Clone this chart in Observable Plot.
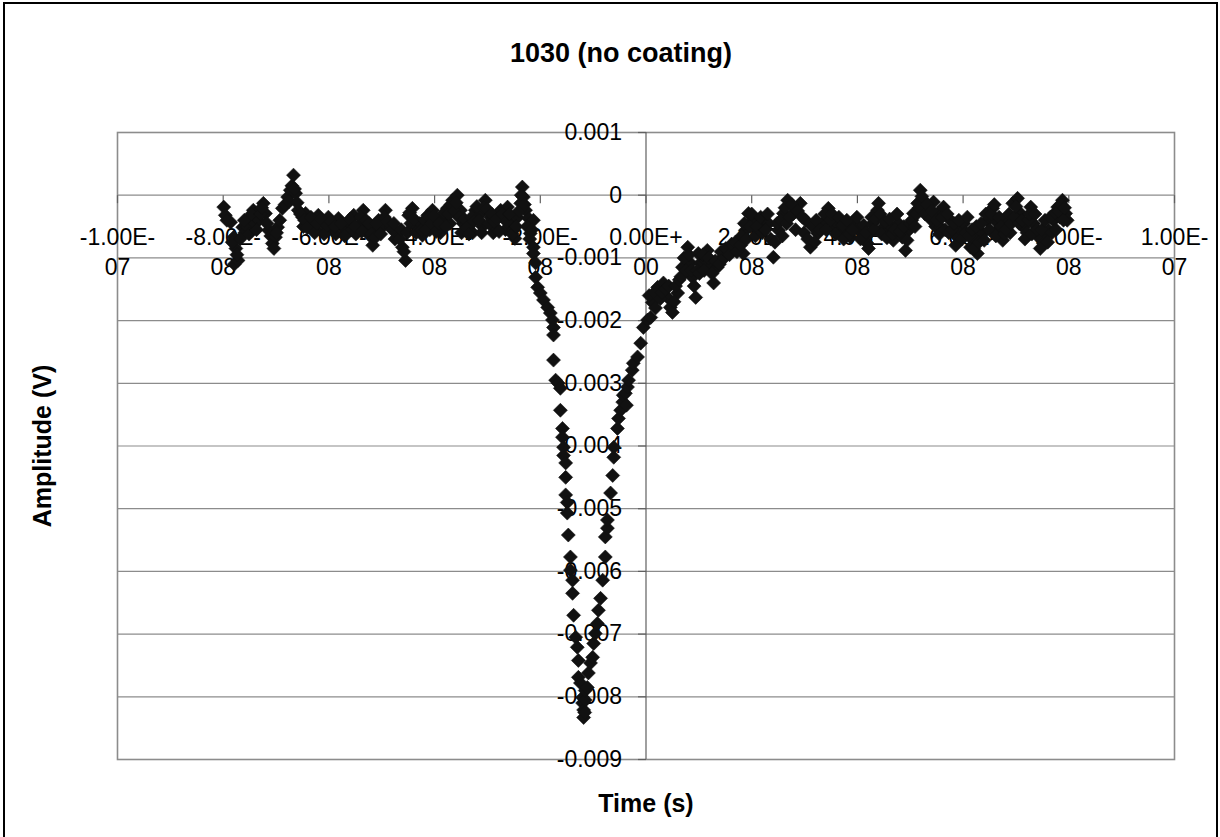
<!DOCTYPE html>
<html><head><meta charset="utf-8">
<script src="https://cdn.jsdelivr.net/npm/d3@7"></script>
<script src="https://cdn.jsdelivr.net/npm/@observablehq/plot@0.6"></script>
<style>
html,body{margin:0;padding:0;background:#fff;}
#wrap{position:relative;width:1220px;height:837px;overflow:hidden;}
#border{position:absolute;left:3px;top:2px;width:1215px;height:900px;border:2px solid #000;box-sizing:border-box;pointer-events:none;}
#chart{position:absolute;left:0;top:0;}
</style></head>
<body><div id="wrap"><div id="chart"></div><div id="border"></div></div>
<script>
// ---- chart text ----
const chartTitle = "1030 (no coating)";
const xTitle = "Time (s)";
const yTitle = "Amplitude (V)";

// ---- axis ticks (time in ns, amplitude in mV) ----
const xTickValues = [-100, -80, -60, -40, -20, 0, 20, 40, 60, 80, 100];
const xTickLabels = ["-1.00E-\n07", "-8.00E-\n08", "-6.00E-\n08", "-4.00E-\n08", "-2.00E-\n08",
  "0.00E+\n00", "2.00E-\n08", "4.00E-\n08", "6.00E-\n08", "8.00E-\n08", "1.00E-\n07"];
const yTickValues = [1, 0, -1, -2, -3, -4, -5, -6, -7, -8, -9];
const yTickLabels = ["0.001", "0", "-0.001", "-0.002", "-0.003", "-0.004", "-0.005", "-0.006", "-0.007", "-0.008", "-0.009"];

// ---- data: [time (ns), amplitude (mV)] ----
const preTrigger = [
  [-79.9,-0.19],[-79.6,-0.32],[-78.6,-0.43],[-78.0,-0.67],[-77.9,-1.10],[-77.6,-0.85],[-77.2,-1.04],
  [-76.3,-0.51],[-75.9,-0.60],[-75.4,-0.51],[-74.8,-0.35],[-74.3,-0.24],[-74.0,-0.45],[-73.3,-0.40],
  [-72.4,-0.13],[-72.0,-0.29],[-71.4,-0.56],[-71.0,-0.65],[-70.7,-0.77],[-70.1,-0.67],[-69.7,-0.51],
  [-68.8,-0.21],[-67.8,-0.03],[-67.3,0.08],[-66.7,0.32],[-66.3,0.03],[-65.8,-0.24],[-65.0,-0.35],
  [-64.8,-0.50],[-64.4,-0.29],[-63.9,-0.45],[-62.9,-0.40],[-62.4,-0.55],[-62.0,-0.32],[-61.0,-0.45],
  [-60.6,-0.58],[-60.1,-0.35],[-59.1,-0.51],[-58.7,-0.62],[-58.2,-0.37],[-57.2,-0.51],[-56.8,-0.55],
  [-56.3,-0.43],[-55.3,-0.32],[-54.9,-0.62],[-54.4,-0.48],[-53.5,-0.24],[-52.7,-0.51],[-52.2,-0.65],
  [-51.7,-0.80],[-50.8,-0.56],[-50.6,-0.40],[-49.8,-0.50],[-49.3,-0.24],[-48.3,-0.51],[-47.5,-0.70],
  [-47.0,-0.61],[-46.1,-0.83],[-45.5,-1.04],[-44.9,-0.32],[-44.5,-0.45],[-44.2,-0.21],[-43.2,-0.51],
  [-42.8,-0.45],[-42.3,-0.64],[-41.3,-0.32],[-40.9,-0.55],[-40.4,-0.24],[-39.4,-0.51],[-38.9,-0.60],
  [-38.5,-0.37],[-37.6,-0.21],[-37.1,-0.45],[-36.6,-0.08],[-35.7,0.00],[-35.1,-0.24],[-34.6,-0.45],
  [-34.2,-0.56],[-33.2,-0.45],[-32.8,-0.60],[-32.3,-0.24],[-31.3,-0.29],[-30.9,-0.50],[-30.4,-0.08],
  [-29.4,-0.35],[-28.9,-0.60],[-28.5,-0.51],[-27.5,-0.24],[-26.9,-0.35],[-26.6,-0.55],[-26.2,-0.19],
  [-25.6,-0.45],[-25.1,-0.56],[-24.8,-0.69],[-24.3,-0.35],[-23.7,-0.13],[-23.4,0.13],[-23.2,-0.03],
  [-22.8,-0.24],[-22.2,-0.37],[-21.9,-0.61],[-21.3,-0.40]
];
const preTriggerDense = [
  [-79.3,-0.40],[-78.3,-0.75],[-77.4,-0.95],[-76.8,-0.70],[-76.0,-0.40],[-75.1,-0.62],[-74.6,-0.30],
  [-73.7,-0.55],[-73.0,-0.30],[-72.7,-0.20],[-71.7,-0.45],[-70.4,-0.85],[-69.9,-0.60],[-69.3,-0.40],
  [-68.3,-0.15],[-67.5,-0.10],[-67.0,0.15],[-66.5,0.10],[-66.0,-0.12],[-65.4,-0.30],[-64.6,-0.40],
  [-64.1,-0.52],[-63.4,-0.35],[-62.7,-0.60],[-62.2,-0.45],[-61.5,-0.38],[-60.9,-0.62],[-60.3,-0.48],
  [-59.6,-0.42],[-58.9,-0.50],[-57.7,-0.45],[-57.0,-0.65],[-56.0,-0.38],[-55.6,-0.55],[-55.0,-0.50],
  [-54.0,-0.35],[-53.8,-0.58],[-53.0,-0.40],[-52.4,-0.45],[-51.9,-0.62],[-51.3,-0.68],[-51.0,-0.45],
  [-50.2,-0.62],[-49.5,-0.35],[-48.9,-0.42],[-48.0,-0.55],[-47.7,-0.45],[-46.6,-0.70],[-46.3,-0.55],
  [-45.8,-0.90],[-45.2,-0.60],[-44.7,-0.28],[-43.9,-0.38],[-43.5,-0.60],[-42.5,-0.55],[-41.9,-0.40],
  [-41.6,-0.55],[-41.0,-0.35],[-40.6,-0.45],[-40.1,-0.33],[-39.7,-0.58],[-39.1,-0.45],[-38.2,-0.28],
  [-37.9,-0.50],[-37.3,-0.30],[-36.9,-0.15],[-36.3,-0.25],[-35.9,-0.12],[-35.4,-0.35],[-34.9,-0.60],
  [-34.4,-0.38],[-33.9,-0.52],[-33.5,-0.62],[-33.0,-0.35],[-32.6,-0.42],[-32.0,-0.18],[-31.6,-0.40],
  [-31.1,-0.60],[-30.7,-0.20],[-30.1,-0.22],[-29.7,-0.45],[-29.2,-0.30],[-28.7,-0.42],[-28.2,-0.38],
  [-27.8,-0.58],[-27.2,-0.30],[-26.4,-0.42],[-25.9,-0.30],[-25.3,-0.62],[-24.6,-0.50],[-24.0,-0.25],
  [-23.6,0.00],[-23.0,-0.15],[-22.5,-0.50],[-22.0,-0.70],[-21.6,-0.55]
];
const pulse = [
  [-21.3,-0.83],[-21.3,-0.93],[-20.9,-1.08],[-20.9,-1.31],[-20.5,-1.47],[-20.0,-1.56],[-19.4,-1.67],
  [-18.6,-1.79],[-18.1,-1.88],[-17.7,-1.99],[-17.5,-2.11],[-17.5,-2.23],[-17.5,-2.63],[-17.1,-2.95],
  [-16.6,-3.00],[-16.2,-3.08],[-16.2,-3.43],[-15.8,-3.72],[-15.8,-3.86],[-15.6,-4.02],[-15.6,-4.15],
  [-15.2,-4.27],[-15.2,-4.50],[-15.2,-4.78],[-14.9,-4.90],[-14.9,-5.07],[-14.7,-5.42],[-14.3,-5.77],
  [-14.3,-5.98],[-13.9,-6.14],[-13.9,-6.35],[-13.7,-6.70],[-13.3,-7.05],[-13.0,-7.21],[-12.8,-7.42],
  [-12.8,-7.69],[-12.4,-7.78],[-12.0,-8.01],[-12.0,-8.10],[-11.8,-8.21],[-11.8,-8.33],[-11.6,-8.25],
  [-11.5,-8.05],[-11.5,-7.90],[-11.1,-7.85],[-10.9,-7.62],[-10.5,-7.46],[-10.1,-7.37],[-9.9,-7.15],
  [-9.6,-6.99],[-9.2,-6.83],[-9.0,-6.62],[-8.6,-6.43],[-8.2,-6.14],[-7.7,-5.77],[-7.7,-5.45],
  [-7.3,-5.31],[-7.3,-5.18],[-6.7,-4.75],[-6.3,-4.47],[-6.1,-4.18],[-6.1,-4.02],[-5.4,-3.72],
  [-5.2,-3.56],[-4.8,-3.43],[-4.4,-3.30],[-4.3,-3.19],[-3.9,-3.16],[-3.7,-3.35],[-3.5,-3.06],
  [-3.3,-2.95],[-2.6,-2.79],[-2.4,-2.68],[-1.6,-2.58],[-1.0,-2.36],[-0.5,-2.11],[0.3,-1.99],[0.9,-1.95]
];
const recovery = [
  [1.2,-1.71],[2.2,-1.47],[3.3,-1.40],[4.1,-1.63],[4.6,-1.79],[5.0,-1.87],[6.0,-1.56],[6.9,-1.15],
  [7.9,-0.83],[8.4,-1.08],[8.8,-1.31],[9.4,-1.63],[9.9,-0.93],[10.3,-1.08],[11.3,-1.04],[11.6,-0.88],
  [12.2,-1.15],[12.8,-1.40],[13.5,-1.15],[14.5,-0.99],[15.4,-0.88],[16.6,-0.83],[17.5,-0.72],
  [18.4,-0.93],[18.8,-0.56],[19.4,-0.29],[20.3,-0.40],[21.3,-0.56],[22.2,-0.40],[23.2,-0.45],
  [24.1,-0.99],[25.1,-0.56],[26.0,-0.29],[26.8,-0.08],[27.9,-0.29],[29.2,-0.13],[30.2,-0.40],
  [31.1,-0.83],[32.5,-0.61],[33.4,-0.45],[34.5,-0.21],[35.5,-0.51],[36.2,-0.45],[36.8,-0.56],
  [37.7,-0.56],[38.2,-0.50],[38.7,-0.67],[39.6,-0.45],[40.3,-0.52],[40.9,-0.61],[41.9,-0.77],
  [42.4,-0.60],[42.9,-0.45],[43.8,-0.24],[44.0,-0.13],[44.9,-0.51],[45.9,-0.56],[46.3,-0.50],
  [46.8,-0.72],[47.8,-0.45],[48.5,-0.67],[49.1,-0.88],[49.7,-0.56],[50.6,-0.29],[51.4,-0.13],
  [51.9,0.08],[52.5,-0.08],[53.5,-0.24],[54.4,-0.11],[54.8,-0.50],[55.2,-0.29],[55.7,-0.51],
  [56.3,-0.19],[57.6,-0.40],[58.9,-0.67],[59.5,-0.55],[60.1,-0.45],[61.4,-0.83],[62.2,-0.70],
  [62.7,-0.93],[63.7,-0.61],[64.6,-0.40],[65.6,-0.21],[66.0,-0.40],[66.5,-0.56],[67.5,-0.72],
  [68.4,-0.40],[68.9,-0.60],[69.4,-0.13],[70.3,-0.05],[70.9,-0.29],[71.4,-0.51],[72.1,-0.60],
  [72.8,-0.19],[73.3,-0.45],[74.3,-0.67],[75.2,-0.77],[75.7,-0.62],[76.2,-0.56],[77.1,-0.40],
  [77.9,-0.19],[78.3,-0.35],[78.8,-0.08],[79.4,-0.29],[79.7,-0.40]
];
const recoveryDense = [
  [0.6,-1.60],[1.6,-1.55],[1.8,-1.80],[2.7,-1.65],[3.0,-1.55],[3.7,-1.50],[4.3,-1.45],[5.3,-1.70],
  [5.6,-1.45],[6.3,-1.35],[6.6,-1.30],[7.2,-1.00],[7.6,-1.20],[8.1,-0.95],[8.6,-1.20],[9.1,-1.45],
  [9.7,-1.20],[10.1,-1.25],[10.8,-0.95],[11.0,-1.20],[11.9,-1.00],[12.5,-1.25],[13.1,-1.05],
  [13.9,-1.10],[14.2,-0.90],[14.8,-1.00],[15.1,-0.85],[15.8,-0.95],[16.2,-0.78],[16.9,-0.75],
  [17.2,-0.90],[17.9,-0.80],[18.1,-0.65],[18.6,-0.45],[19.0,-0.70],[19.7,-0.50],[20.0,-0.30],
  [20.7,-0.65],[21.0,-0.50],[21.7,-0.35],[22.0,-0.60],[22.6,-0.55],[23.0,-0.30],[23.6,-0.70],
  [24.4,-0.75],[24.8,-0.45],[25.5,-0.40],[25.8,-0.65],[26.3,-0.20],[26.6,-0.45],[27.2,-0.35],
  [27.6,-0.15],[28.3,-0.55],[28.7,-0.25],[29.6,-0.35],[29.9,-0.60],[30.6,-0.70],[31.5,-0.50],
  [31.9,-0.75],[32.2,-0.40],[32.9,-0.55],[33.8,-0.30],[34.1,-0.55],[34.9,-0.40],[35.2,-0.30],
  [35.9,-0.62],[36.5,-0.35],[37.2,-0.48],[37.4,-0.70],[38.0,-0.40],[38.5,-0.62],[39.1,-0.55],
  [39.9,-0.35],[40.6,-0.70],[41.2,-0.48],[41.6,-0.60],[42.1,-0.85],[42.7,-0.35],[43.2,-0.55],
  [43.5,-0.38],[44.3,-0.30],[44.6,-0.62],[45.2,-0.42],[45.6,-0.68],[46.1,-0.38],[46.6,-0.62],
  [47.1,-0.55],[47.5,-0.30],[48.1,-0.58],[48.8,-0.50],[49.4,-0.72],[50.0,-0.45],[50.3,-0.40],
  [50.9,-0.50],[51.2,-0.30],[51.7,-0.20],[52.2,-0.02],[52.8,-0.30],[53.2,-0.15],[53.8,-0.38],
  [54.1,-0.25],[55.0,-0.40],[55.5,-0.62],[56.0,-0.35],[56.6,-0.55],[57.0,-0.30],[57.3,-0.60],
  [57.9,-0.55],[58.3,-0.45],[58.6,-0.80],[59.2,-0.40],[59.8,-0.70],[60.5,-0.60],[60.8,-0.35],
  [61.1,-0.65],[61.7,-0.55],[62.0,-0.85],[62.5,-0.50],[63.0,-0.75],[63.4,-0.45],[64.0,-0.72],
  [64.3,-0.30],[65.0,-0.55],[65.3,-0.30],[65.9,-0.15],[66.2,-0.65],[66.8,-0.35],[67.2,-0.50],
  [67.8,-0.62],[68.1,-0.55],[68.7,-0.30],[69.1,-0.45],[69.7,-0.35],[70.0,-0.18],[70.6,-0.45],
  [71.1,-0.40],[71.7,-0.70],[72.4,-0.40],[72.6,-0.30],[73.0,-0.62],[73.6,-0.30],[74.0,-0.55],
  [74.6,-0.85],[74.9,-0.55],[75.5,-0.40],[76.0,-0.75],[76.5,-0.35],[76.8,-0.60],[77.4,-0.28],
  [77.6,-0.55],[78.1,-0.25],[78.5,-0.15],[79.0,-0.40],[79.2,-0.20]
];

// ---- build tables ----
const points = [...preTrigger, ...preTriggerDense, ...pulse, ...recovery, ...recoveryDense]
  .map(([t, v]) => ({t, v}));
const xAxisTable = xTickValues.map((v, i) => ({v, label: xTickLabels[i]}));
const yAxisTable = yTickValues.map((v, i) => ({v, label: yTickLabels[i]}));

// custom symbols
const diamondSym = {draw(ctx, size) { const r = Math.sqrt(size / Math.PI);
  ctx.moveTo(0, -r); ctx.lineTo(r, 0); ctx.lineTo(0, r); ctx.lineTo(-r, 0); ctx.closePath(); }};
const tickLeftSym = {draw(ctx, size) { const r = Math.sqrt(size / Math.PI); ctx.moveTo(-r, 0); ctx.lineTo(0, 0); }};
const tickDownSym = {draw(ctx, size) { const r = Math.sqrt(size / Math.PI); ctx.moveTo(0, 0); ctx.lineTo(0, r); }};

const font = "'Liberation Sans', Arial, Helvetica, sans-serif";

const chart = Plot.plot({
  width: 1220,
  height: 837,
  marginLeft: 117,
  marginRight: 46,
  marginTop: 132,
  marginBottom: 78,
  style: {fontFamily: font, background: "#fff", color: "#000"},
  x: {domain: [-100, 100], axis: null},
  y: {domain: [-9, 1], axis: null},
  marks: [
    Plot.ruleY(yAxisTable, {y: "v", stroke: "#8c8c8c", strokeWidth: 1.2}),
    Plot.frame({stroke: "#8c8c8c", strokeWidth: 1.6}),
    Plot.ruleX([0], {stroke: "#606060", strokeWidth: 1.2}),
    Plot.dot(yAxisTable, {x: () => 0, y: "v", symbol: tickLeftSym, r: 8, fill: "none", stroke: "#606060", strokeWidth: 1.2}),
    Plot.dot(xAxisTable, {x: "v", y: () => 0, symbol: tickDownSym, r: 8, fill: "none", stroke: "#606060", strokeWidth: 1.2}),
    Plot.text(yAxisTable, {x: () => 0, y: "v", text: "label", textAnchor: "end", dx: -24, fontSize: 23, fill: "#000"}),
    Plot.text(xAxisTable, {x: "v", y: () => 0, text: "label", lineAnchor: "middle", lineHeight: 1.3, dy: 55, fontSize: 23, fill: "#000"}),
    Plot.dot(points, {x: "t", y: "v", symbol: diamondSym, r: 7, fill: "#111", stroke: "#111", strokeWidth: 0.6}),
    Plot.text([chartTitle], {frameAnchor: "top", lineAnchor: "middle", dy: -79, dx: -25, fontSize: 27, fontWeight: "bold", fill: "#000"}),
    Plot.text([xTitle], {frameAnchor: "bottom", lineAnchor: "middle", dy: 44, fontSize: 25, fontWeight: "bold", fill: "#000"}),
    Plot.text([yTitle], {frameAnchor: "left", textAnchor: "middle", lineAnchor: "middle", rotate: -90, dx: -75, fontSize: 25, fontWeight: "bold", fill: "#000"})
  ]
});
document.getElementById("chart").appendChild(chart);
</script>
</body></html>
